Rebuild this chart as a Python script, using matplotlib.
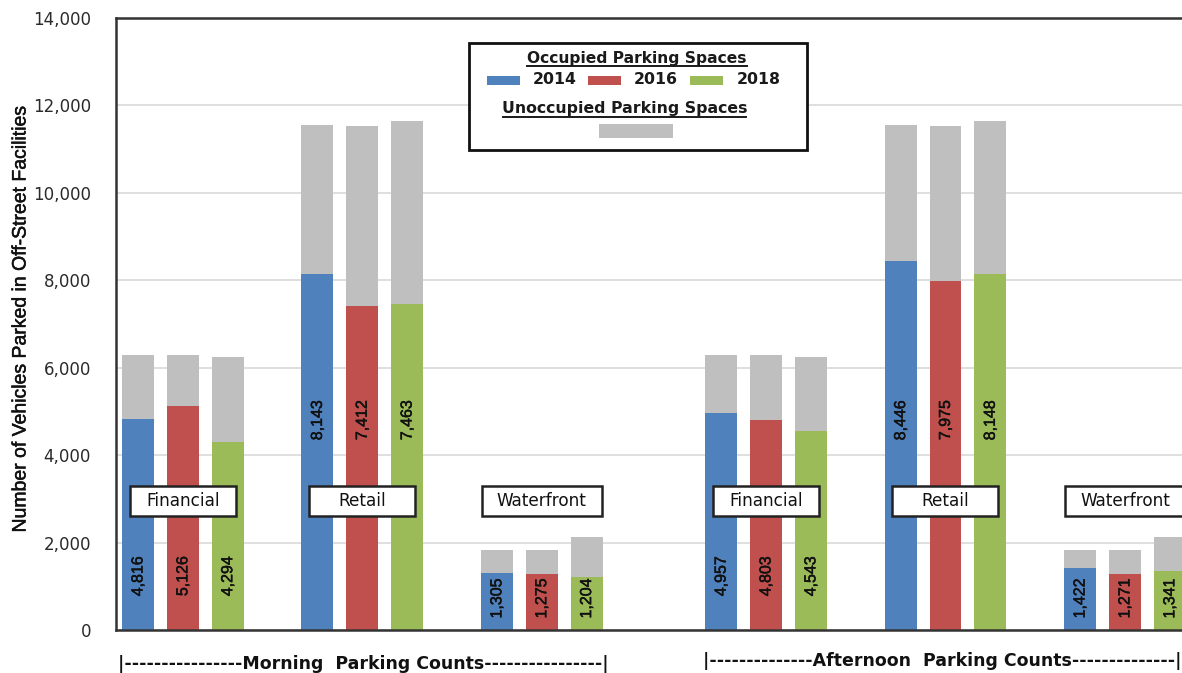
import matplotlib
matplotlib.use("Agg")
import matplotlib.pyplot as plt
from matplotlib.patches import Rectangle
from matplotlib.lines import Line2D
from matplotlib import patheffects

# ---- data -------------------------------------------------------------
areas = ["Financial", "Retail", "Waterfront"]
periods = ["Morning", "Afternoon"]
years = ["2014", "2016", "2018"]

# occupied spaces for 2014, 2016, 2018
morning_occupied = {
    "Financial": [4816, 5126, 4294],
    "Retail": [8143, 7412, 7463],
    "Waterfront": [1305, 1275, 1204],
}
afternoon_occupied = {
    "Financial": [4957, 4803, 4543],
    "Retail": [8446, 7975, 8148],
    "Waterfront": [1422, 1271, 1341],
}
# total off-street supply per area and year
supply = {
    "Financial": [6300, 6300, 6250],
    "Retail": [11560, 11520, 11650],
    "Waterfront": [1830, 1830, 2130],
}
yticks = [0, 2000, 4000, 6000, 8000, 10000, 12000, 14000]

# ---- styling ----------------------------------------------------------
year_colors = ["#4F81BD", "#C0504D", "#9BBB59"]
unocc_color = "#BFBFBF"
WIDE = "DejaVu Sans"
ARIAL = "Liberation Sans"
LEGEND_FONT = "DejaVu Sans"
semi = [patheffects.withStroke(linewidth=0.35, foreground="#111111")]

W, H = 1182, 673
fig = plt.figure(figsize=(W / 100, H / 100), dpi=100)
renderer = fig.canvas.get_renderer()


def fx(px):
    return px / W


def fy(py):
    return 1 - py / H


def fit_width(t, target_px):
    """Rescale a text's font so that its rendered width equals target_px."""
    for _ in range(3):
        w = t.get_window_extent(renderer=renderer).width
        t.set_fontsize(t.get_fontsize() * target_px / w)
    return t


# axes box: left edge at 116 px, top at 18 px, bottom at 630 px;
# the right side runs past the figure edge
ax_left, ax_top, ax_bottom, ax_right = 116, 18, 630, 1200
ax = fig.add_axes([fx(ax_left), fy(ax_bottom), (ax_right - ax_left) / W,
                   (ax_bottom - ax_top) / H])

bar_w = 0.71
group_start = {("Morning", "Financial"): 0, ("Morning", "Retail"): 4,
               ("Morning", "Waterfront"): 8, ("Afternoon", "Financial"): 13,
               ("Afternoon", "Retail"): 17, ("Afternoon", "Waterfront"): 21}
label_y = {"Financial": 1230, "Retail": 4800, "Waterfront": 720}

occupied_by_period = {"Morning": morning_occupied, "Afternoon": afternoon_occupied}

for period in periods:
    occ = occupied_by_period[period]
    for area in areas:
        x0 = group_start[(period, area)]
        for i, yr in enumerate(years):
            x = x0 + i
            o = occ[area][i]
            free = supply[area][i] - o
            ax.bar(x, o, width=bar_w, color=year_colors[i], zorder=2,
                   edgecolor="none")
            ax.bar(x, free, bottom=o, width=bar_w, color=unocc_color,
                   zorder=2, edgecolor="none")
            ax.text(x, label_y[area], f"{o:,}", rotation=90, ha="center",
                    va="center", fontsize=11.5, family=ARIAL, color="#111111",
                    zorder=4, path_effects=semi)

# ---- axes -------------------------------------------------------------
x_lo = -0.49
x_hi = x_lo + (ax_right - ax_left) / 44.86
ax.set_xlim(x_lo, x_hi)
ax.set_ylim(0, 14000)
ax.set_yticks(yticks)
ax.set_yticklabels([f"{v:,}" for v in yticks], fontsize=12, family=WIDE,
                   color="#2a2a2a")
ax.set_xticks([])
ax.tick_params(axis="y", length=0, pad=18)
ax.yaxis.grid(True, color="#D9D9D9", linewidth=1.2, zorder=0)
ax.set_axisbelow(True)
for side in ["left", "top", "bottom"]:
    ax.spines[side].set_color("#333333")
    ax.spines[side].set_linewidth(1.8)
    ax.spines[side].set_zorder(5)
ax.spines["right"].set_visible(False)

fig.text(fx(21), fy(318), "Number of Vehicles Parked in Off-Street Facilities",
         rotation=90, ha="center", va="center", fontsize=14,
         family=ARIAL, color="#111111", path_effects=semi)

# area name boxes centred over each group (pixel widths of the frames)
box_px = {"Financial": 106, "Retail": 106, "Waterfront": 120}
px_per_unit = 44.86
box_h = 30 * 14000 / (ax_bottom - ax_top)
for period in periods:
    for area in areas:
        cx = group_start[(period, area)] + 1.0
        bw = box_px[area] / px_per_unit
        cy = 2950
        ax.add_patch(Rectangle((cx - bw / 2, cy - box_h / 2), bw, box_h,
                               facecolor="white", edgecolor="#222222",
                               linewidth=1.8, zorder=6))
        ax.text(cx, cy, area, ha="center", va="center", fontsize=12.2,
                family=WIDE, color="#111111", zorder=7)

# period captions under the axis
morning_cap = fig.text(fx(118), fy(664),
                       "|" + "-" * 16 + "Morning  Parking Counts" + "-" * 16 + "|",
                       ha="left", va="center", fontsize=12.5, fontweight="bold",
                       family=WIDE, color="#111111")
fit_width(morning_cap, 487)
fig.text(fx(703), fy(661),
         "|" + "-" * 14 + "Afternoon  Parking Counts" + "-" * 14 + "|",
         ha="left", va="center", fontsize=morning_cap.get_fontsize(),
         fontweight="bold", family=WIDE, color="#111111")

# ---- legend panel -----------------------------------------------------
fig.add_artist(Rectangle((fx(469), fy(150)), fx(807) - fx(469), fy(43) - fy(150),
                         transform=fig.transFigure, facecolor="white",
                         edgecolor="#111111", linewidth=2, zorder=10))


def heading(x0, x1, y, s, underline_y):
    t = fig.text(fx((x0 + x1) / 2), fy(y), s, ha="center", va="center",
                 fontsize=11, fontweight="bold", family=LEGEND_FONT,
                 color="#1a1a1a", zorder=11)
    fit_width(t, x1 - x0)
    fig.add_artist(Line2D([fx(x0), fx(x1)], [fy(underline_y), fy(underline_y)],
                          transform=fig.transFigure, color="#1a1a1a",
                          linewidth=1.4, zorder=11))
    return t


heading(527, 747, 59, "Occupied Parking Spaces", 66)
heading(503, 746, 109, "Unoccupied Parking Spaces", 117)

patch_x = [487, 588, 690]
label_x = [533, 634, 737]
for i, yr in enumerate(years):
    fig.add_artist(Rectangle((fx(patch_x[i]), fy(85)), fx(33), fy(76) - fy(85),
                             transform=fig.transFigure, facecolor=year_colors[i],
                             edgecolor="none", zorder=11))
    t = fig.text(fx(label_x[i]), fy(80), yr, ha="left", va="center",
                 fontsize=12, fontweight="bold", family=LEGEND_FONT,
                 color="#1a1a1a", zorder=11)
    fit_width(t, 44)

fig.add_artist(Rectangle((fx(599), fy(138)), fx(74), fy(124) - fy(138),
                         transform=fig.transFigure, facecolor=unocc_color,
                         edgecolor="none", zorder=11))

fig.savefig("out.png", dpi=100)
